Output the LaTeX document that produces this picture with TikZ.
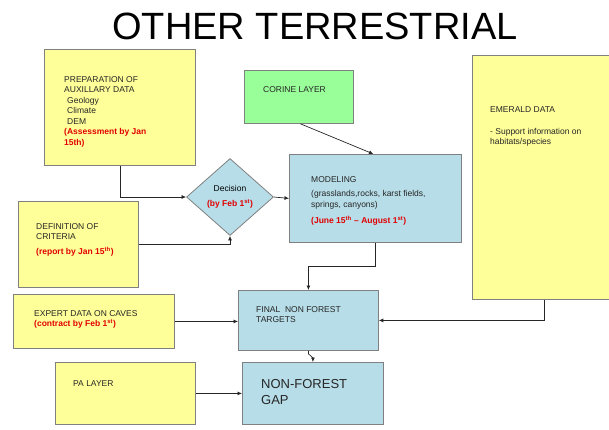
\documentclass[tikz,border=0pt]{standalone}
\usepackage{fontspec}
\setmainfont{Liberation Sans}
\usepackage{xcolor}
\definecolor{boxyellow}{RGB}{255,255,153}
\definecolor{boxblue}{RGB}{183,221,232}
\definecolor{boxgreen}{RGB}{153,255,153}
\definecolor{boxline}{RGB}{128,128,128}
\definecolor{deadred}{RGB}{225,0,0}
\usetikzlibrary{arrows.meta, positioning, shapes.geometric, calc}
\newcommand{\deadline}[1]{\textcolor{deadred}{\bfseries #1}}

\begin{document}
\begin{tikzpicture}[x=1pt, y=-1pt,
    box/.style={rectangle, draw=boxline, line width=0.8pt, anchor=north west,
      inner sep=0pt},
    ybox/.style={box, fill=boxyellow},
    bbox/.style={box, fill=boxblue},
    gbox/.style={box, fill=boxgreen},
    txt/.style={anchor=north west, inner sep=0pt, align=left,
      font=\fontsize{8.5}{10.5}\selectfont, text=black!85},
    arrow/.style={draw=black!85, line width=0.7pt,
      -{Latex[length=4.5pt, width=4pt]}}
]
\useasboundingbox (0,0) rectangle (609,430);

%% Titre
\node[font=\fontsize{38}{40}\selectfont] (title) at (315,26) {OTHER TERRESTRIAL};

%% Boîtes
\node[ybox, minimum width=151pt, minimum height=116pt] (prep) at (44,49) {};
\node[gbox, minimum width=109pt, minimum height=53pt] (corine) at (244,70) {};
\node[ybox, minimum width=150pt, minimum height=244pt] (emerald) at (472,55) {};
\node[diamond, draw=boxline, line width=0.8pt, fill=boxblue, inner sep=0pt,
  minimum width=87pt, minimum height=77pt, align=center,
  font=\fontsize{8.5}{15}\selectfont] (dec) at (230,197)
  {Decision\\\deadline{(by Feb 1\textsuperscript{st})}};
\node[bbox, minimum width=172pt, minimum height=88pt] (model) at (289,154) {};
\node[ybox, minimum width=120pt, minimum height=86pt] (def) at (18,201) {};
\node[ybox, minimum width=161pt, minimum height=54pt] (expert) at (13,294) {};
\node[bbox, minimum width=140pt, minimum height=60pt] (final) at (238,290) {};
\node[ybox, minimum width=140pt, minimum height=62pt] (pa) at (55,362) {};
\node[bbox, minimum width=141pt, minimum height=62pt] (gap) at (242,362) {};

%% Textes
\node[txt] (prep-t) at ([shift={(20,27)}]prep.north west)
  {PREPARATION OF\\AUXILLARY DATA\\\hspace{3pt}Geology\\\hspace{3pt}Climate\\
   \hspace{3pt}DEM\\\deadline{(Assessment by Jan}\\\deadline{15th)}};
\node[txt] (corine-t) at ([shift={(19,16)}]corine.north west) {CORINE LAYER};
\node[txt] (emerald-t) at ([shift={(18,51)}]emerald.north west)
  {EMERALD DATA\\[11.5pt]- Support information on\\habitats/species};
\node[txt] (model-t) at ([shift={(22,22)}]model.north west)
  {MODELING\\[4pt](grasslands,rocks, karst fields,\\springs, canyons)\\[6pt]
   \deadline{(June 15\textsuperscript{th} -- August 1\textsuperscript{st})}};
\node[txt] (def-t) at ([shift={(18,22)}]def.north west)
  {DEFINITION OF\\CRITERIA\\[4.5pt]\deadline{(report by Jan 15\textsuperscript{th})}};
\node[txt] (expert-t) at ([shift={(21,16)}]expert.north west)
  {EXPERT DATA ON CAVES\\\deadline{(contract by Feb 1\textsuperscript{st})}};
\node[txt] (final-t) at ([shift={(18,16)}]final.north west)
  {FINAL\ \ NON FOREST\\TARGETS};
\node[txt] (pa-t) at ([shift={(18,18)}]pa.north west) {PA LAYER};
\node[txt, font=\fontsize{13}{16}\selectfont] (gap-t)
  at ([shift={(19,17)}]gap.north west) {NON-FOREST\\GAP};

%% Liaisons
\draw[arrow] (prep.south) |- (dec.west);
\draw[arrow] (def.east) -| (dec.south);
\draw[arrow] (dec.east) -- (model.west);
\draw[arrow] ([xshift=1.5pt]corine.south) -- ([xshift=-2pt]model.north);
\draw[arrow] (model.south) -- ++(0,24) -| (final.north);
\draw[arrow] (expert.east) -- (expert.east -| final.west);
\draw[arrow] ([xshift=-3pt]emerald.south) |- (final.east);
\draw[arrow] (final.south) -- ++(0,3) -- ++(4.5,4) -- (gap.north);
\draw[arrow] (pa.east) -- (gap.west);
\end{tikzpicture}
\end{document}
